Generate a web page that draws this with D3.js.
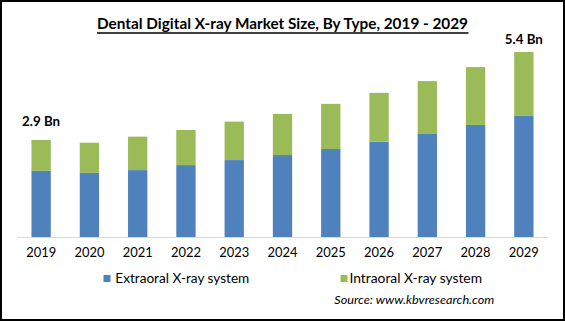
<!DOCTYPE html>
<html>
<head>
<meta charset="utf-8">
<script src="https://cdn.jsdelivr.net/npm/d3@7"></script>
<style>
  html, body { margin: 0; padding: 0; background: #fff; }
  svg { display: block; }
</style>
</head>
<body>
<svg id="chart" width="565" height="321"></svg>
<script>
const years = ["2019","2020","2021","2022","2023","2024","2025","2026","2027","2028","2029"];
const extraoral = [1.98, 1.92, 2.00, 2.15, 2.30, 2.45, 2.63, 2.85, 3.08, 3.35, 3.62];
const intraoral = [0.92, 0.90, 1.00, 1.05, 1.15, 1.23, 1.35, 1.46, 1.58, 1.73, 1.91];
const seriesNames = ["Extraoral X-ray system", "Intraoral X-ray system"];
const valueLabels = [{year: "2019", text: "2.9 Bn"}, {year: "2029", text: "5.4 Bn"}];
const titleText = "Dental Digital X-ray Market Size, By Type, 2019 - 2029";
const sourceText = "Source:  www.kbvresearch.com";

const colors = ["#4F81BD", "#9BBB59"];
const FONT = "Lato, 'Open Sans', sans-serif";

const svg = d3.select("#chart");
svg.append("rect").attr("x", 0).attr("y", 0).attr("width", 565).attr("height", 321).attr("fill", "#fff");

const x = d3.scaleBand().domain(years).range([17, 548]).paddingInner(0.6).paddingOuter(0.3);
const y = d3.scaleLinear().domain([0, 6]).range([237, 237 - 6 * 33.45]);

const rows = years.map((yr, i) => ({year: yr, Extraoral: extraoral[i], Intraoral: intraoral[i]}));
const stack = d3.stack().keys(["Extraoral", "Intraoral"]);
const stacked = stack(rows);

// Title
const title = svg.append("text")
  .attr("x", 282.5).attr("y", 29)
  .attr("text-anchor", "middle")
  .attr("font-family", FONT).attr("font-weight", "bold").attr("font-size", 16)
  .attr("fill", "#000")
  .attr("textLength", 371).attr("lengthAdjust", "spacingAndGlyphs")
  .text(titleText);
svg.append("line").attr("x1", 97).attr("x2", 468.5).attr("y1", 33).attr("y2", 33)
  .attr("stroke", "#000").attr("stroke-width", 1.3);

// Axis baseline
svg.append("line").attr("x1", 17).attr("x2", 548).attr("y1", y(0) + 0.5).attr("y2", y(0) + 0.5)
  .attr("stroke", "#D9D9D9").attr("stroke-width", 1);

// Bars
svg.append("g").selectAll("g").data(stacked).join("g")
  .attr("fill", (d, i) => colors[i])
  .selectAll("rect").data(d => d).join("rect")
  .attr("x", d => x(d.data.year))
  .attr("width", x.bandwidth())
  .attr("y", d => y(d[1]))
  .attr("height", d => y(d[0]) - y(d[1]));

// X axis tick labels using d3 axis
const xAxis = d3.axisBottom(x).tickSize(0).tickPadding(0);
const gx = svg.append("g").attr("transform", `translate(0, ${y(0)})`).call(xAxis);
gx.select(".domain").remove();
gx.selectAll("text")
  .attr("y", 20).attr("dy", "0")
  .attr("font-family", FONT).attr("font-size", 13.5).attr("fill", "#000")
  .attr("textLength", 30).attr("lengthAdjust", "spacingAndGlyphs");

// Value labels
const totals = {};
years.forEach((yr, i) => totals[yr] = extraoral[i] + intraoral[i]);
const gaps = {"2019": 14, "2029": 8};
svg.append("g").selectAll("text").data(valueLabels).join("text")
  .attr("x", d => x(d.year) + x.bandwidth() / 2)
  .attr("y", d => y(totals[d.year]) - gaps[d.year])
  .attr("text-anchor", "middle")
  .attr("font-family", FONT).attr("font-weight", "bold").attr("font-size", 12.5)
  .attr("fill", "#000")
  .attr("textLength", 38).attr("lengthAdjust", "spacingAndGlyphs")
  .text(d => d.text);

// Legend
const legendPos = [{sx: 103.5, tx: 115.3, tw: 134}, {sx: 340.5, tx: 349.5, tw: 132.5}];
const lg = svg.append("g");
seriesNames.forEach((name, i) => {
  lg.append("rect").attr("x", legendPos[i].sx).attr("y", 275).attr("width", 7).attr("height", 7).attr("fill", colors[i]);
  lg.append("text").attr("x", legendPos[i].tx).attr("y", 283)
    .attr("font-family", FONT).attr("font-size", 13.5).attr("fill", "#000")
    .attr("textLength", legendPos[i].tw).attr("lengthAdjust", "spacingAndGlyphs")
    .text(name);
});

// Source
svg.append("text").attr("x", 334.3).attr("y", 304)
  .attr("font-family", FONT).attr("font-style", "italic").attr("font-size", 12)
  .attr("fill", "#000")
  .attr("textLength", 160).attr("lengthAdjust", "spacingAndGlyphs")
  .text(sourceText);

// Border
svg.append("rect").attr("x", 1).attr("y", 1).attr("width", 563).attr("height", 319)
  .attr("fill", "none").attr("stroke", "#000").attr("stroke-width", 2);
</script>
</body>
</html>
